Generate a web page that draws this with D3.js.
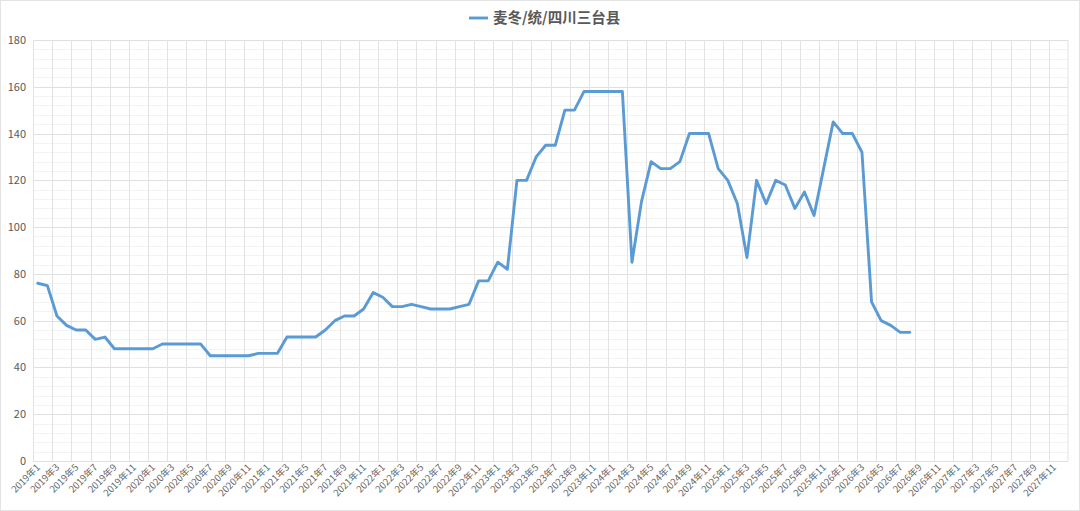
<!DOCTYPE html>
<html>
<head>
<meta charset="utf-8">
<script src="https://cdn.jsdelivr.net/npm/d3@7.9.0/dist/d3.min.js"></script>
<style>
  html, body { margin: 0; padding: 0; background: #fff; }
  svg { display: block; font-family: "Noto Sans CJK SC", "Noto Sans", sans-serif; }
</style>
</head>
<body>
<svg id="chart" width="1080" height="511"></svg>
<script>
// categories: monthly 2019年1 .. 2027年12
const years = [2019, 2020, 2021, 2022, 2023, 2024, 2025, 2026, 2027];
const months = [1, 2, 3, 4, 5, 6, 7, 8, 9, 10, 11, 12];
const categories = years.flatMap(y => months.map(m => `${y}年${m}`));

const seriesName = "麦冬/统/四川三台县";
// monthly prices, 2019年1 .. 2026年8
const prices = [
  76, 75, 62, 58, 56, 56, 52, 53, 48, 48, 48, 48,
  48, 50, 50, 50, 50, 50, 45, 45, 45, 45, 45, 46,
  46, 46, 53, 53, 53, 53, 56, 60, 62, 62, 65, 72,
  70, 66, 66, 67, 66, 65, 65, 65, 66, 67, 77, 77,
  85, 82, 120, 120, 130, 135, 135, 150, 150, 158, 158, 158,
  158, 158, 85, 111, 128, 125, 125, 128, 140, 140, 140, 125,
  120, 110, 87, 120, 110, 120, 118, 108, 115, 105, 125, 145,
  140, 140, 132, 68, 60, 58, 55, 55
];
const yTicks = [0, 20, 40, 60, 80, 100, 120, 140, 160, 180];

const svg = d3.select("#chart");
const W = 1080, H = 511;
const plot = { left: 33, right: 1068, top: 40, bottom: 461 };

// outer border
svg.append("rect")
  .attr("x", 0.5).attr("y", 0.5).attr("width", W - 1).attr("height", H - 1)
  .attr("fill", "#fff").attr("stroke", "#e3e3e3");

const x = d3.scaleBand().domain(categories).range([plot.left, plot.right]).padding(0);
const y = d3.scaleLinear().domain([0, 180]).range([plot.bottom, plot.top]);

// minor horizontal grid (every 4)
const minor = d3.range(0, 181, 4).filter(v => v % 20 !== 0);
svg.append("g").selectAll("line").data(minor).join("line")
  .attr("x1", plot.left).attr("x2", plot.right)
  .attr("y1", d => Math.round(y(d)) + 0.5).attr("y2", d => Math.round(y(d)) + 0.5)
  .attr("stroke", "#f3f3f3").attr("stroke-width", 1);

// major horizontal grid
svg.append("g").selectAll("line").data(yTicks).join("line")
  .attr("x1", plot.left).attr("x2", plot.right)
  .attr("y1", d => Math.round(y(d)) + 0.5).attr("y2", d => Math.round(y(d)) + 0.5)
  .attr("stroke", "#e0e0e0").attr("stroke-width", 1);

// vertical grid every 2 categories
const vCats = categories.filter((c, i) => i % 2 === 0);
svg.append("g").selectAll("line").data(vCats.concat(["__end"])).join("line")
  .attr("x1", d => d === "__end" ? plot.right : Math.round(x(d)) + 0.5)
  .attr("x2", d => d === "__end" ? plot.right : Math.round(x(d)) + 0.5)
  .attr("y1", plot.top).attr("y2", plot.bottom)
  .attr("stroke", "#e3e3e3").attr("stroke-width", 1);

// y axis labels
svg.append("g").selectAll("text").data(yTicks).join("text")
  .attr("x", 26).attr("y", d => y(d) + 4)
  .attr("text-anchor", "end")
  .attr("font-size", 11)
  .attr("fill", "#595959")
  .text(d => d);

// x axis labels (every second month), rotated -45
const xLabels = categories.filter((c, i) => i % 2 === 0);
svg.append("g").selectAll("text").data(xLabels).join("text")
  .attr("transform", d => `translate(${x(d) + x.bandwidth() / 2 + 3},${plot.bottom + 7}) rotate(-45)`)
  .attr("text-anchor", "end")
  .attr("font-size", 9.5)
  .attr("fill", "#666666")
  .text(d => d);

// series line
const line = d3.line()
  .x((d, i) => x(categories[i]) + x.bandwidth() / 2)
  .y(d => y(d));

svg.append("path")
  .datum(prices)
  .attr("d", line)
  .attr("fill", "none")
  .attr("stroke", "#5b9bd5")
  .attr("stroke-width", 2.9)
  .attr("stroke-linejoin", "round")
  .attr("stroke-linecap", "round");

// legend
const lg = svg.append("g").attr("transform", "translate(469,18)");
lg.append("line")
  .attr("x1", 0).attr("x2", 19).attr("y1", 0).attr("y2", 0)
  .attr("stroke", "#5b9bd5").attr("stroke-width", 2.9);
lg.append("text")
  .attr("x", 24).attr("y", 5)
  .attr("font-size", 14.5)
  .attr("font-weight", "bold")
  .attr("fill", "#595959")
  .text(seriesName);
</script>
</body>
</html>
